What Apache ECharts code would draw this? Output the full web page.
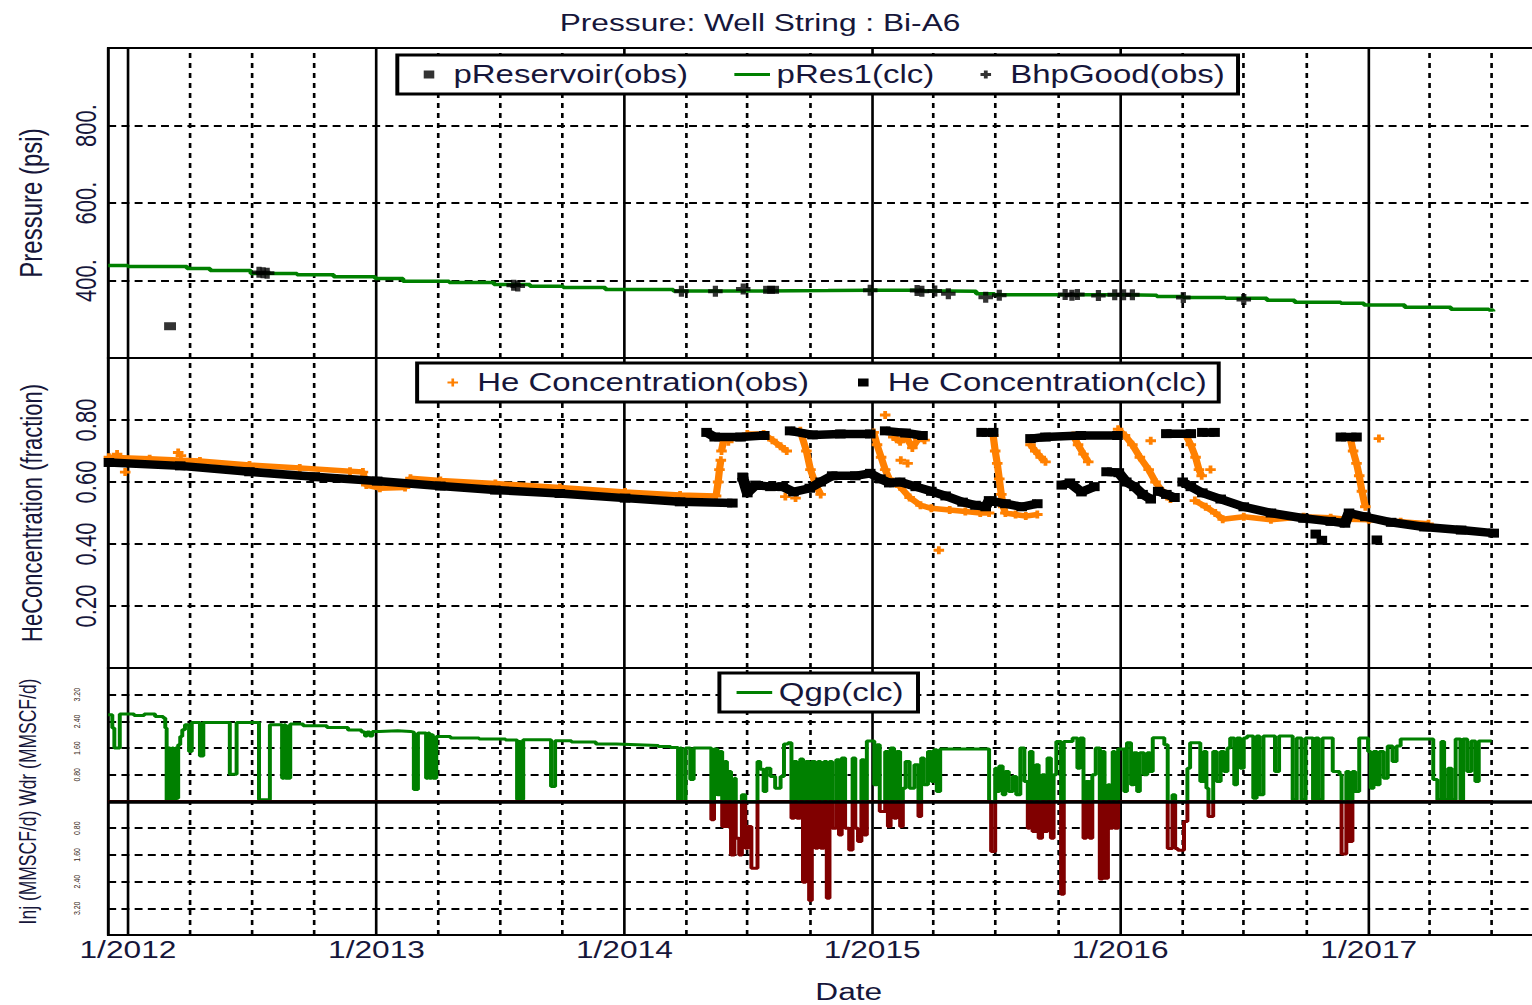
<!DOCTYPE html>
<html><head><meta charset="utf-8">
<script src="https://cdn.jsdelivr.net/npm/echarts@6/dist/echarts.min.js"></script>
<style>
html,body{margin:0;padding:0;background:#fff;overflow:hidden;}
#wrap{width:1532px;height:1005px;overflow:hidden;position:relative;background:#fff;}
#chart{width:1180px;height:1005px;transform:scaleX(1.32);transform-origin:0 0;}
</style></head><body>
<div id="wrap"><div id="chart"></div></div>
<script>
const titleText = 'Pressure: Well String : Bi-A6';
const xRange = ['2011-12-03', '2017-09-05'];
const quarterLines = ['2012-04-01','2012-07-01','2012-10-01','2013-04-01','2013-07-01','2013-10-01','2014-04-01','2014-07-01','2014-10-01','2015-04-01','2015-07-01','2015-10-01','2016-04-01','2016-07-01','2016-10-01','2017-04-01','2017-07-01'];

const pRes1 = [['2011-12-03',439],['2012-01-01',436],['2012-03-28',431],['2012-05-01',426],['2012-06-30',418],['2012-09-06',415],['2012-10-30',410],['2012-12-30',405],['2013-02-09',398],['2013-04-18',395],['2013-06-23',390],['2013-08-15',385],['2013-10-03',382],['2013-12-04',377],['2014-03-14',373],['2014-07-20',374],['2014-10-28',375],['2014-12-29',375],['2015-03-13',373],['2015-04-23',372],['2015-06-03',366],['2015-06-30',363],['2016-01-06',362],['2016-02-24',359],['2016-04-03',356],['2016-06-04',354],['2016-08-04',349],['2016-09-14',344],['2016-11-21',341],['2016-12-25',337],['2017-02-23',331],['2017-05-02',326],['2017-06-27',324],['2017-07-03',320]];

const pReservoirObs = [['2012-03-03',282],['2014-08-02',376],['2014-08-08',376]];

const bhpGood = [['2012-07-12',421],['2012-07-18',420],['2012-07-24',419],['2013-07-22',388],['2013-07-28',386],['2014-03-26',372],['2014-05-15',372],['2014-06-25',378],['2014-12-29',375],['2015-03-08',374],['2015-03-15',372],['2015-04-03',373],['2015-04-23',366],['2015-06-17',357],['2015-07-07',362],['2015-10-12',364],['2015-10-22',362],['2015-10-30',364],['2015-11-30',361],['2015-12-24',363],['2016-01-06',363],['2016-01-19',363],['2016-04-03',356],['2016-07-01',351]];

const heClcSegments = [
 [['2011-12-04',0.663],['2012-03-18',0.652],['2012-06-28',0.633],['2012-10-02',0.617],['2013-01-02',0.603],['2013-04-05',0.587],['2013-06-25',0.574],['2013-09-28',0.563],['2014-01-02',0.548],['2014-03-24',0.536],['2014-06-09',0.532]],
 [['2014-05-02',0.76],['2014-05-14',0.745],['2014-06-21',0.745],['2014-07-26',0.75]],
 [['2014-09-02',0.765],['2014-10-05',0.752],['2014-11-15',0.755],['2014-12-29',0.755]],
 [['2015-01-20',0.765],['2015-02-19',0.758],['2015-03-16',0.75]],
 [['2015-06-11',0.76],['2015-06-28',0.76]],
 [['2015-08-22',0.74],['2015-09-13',0.745],['2015-11-04',0.75],['2015-12-28',0.75]],
 [['2016-03-09',0.756],['2016-04-14',0.756]],
 [['2016-05-01',0.76],['2016-05-19',0.76]],
 [['2016-11-21',0.745],['2016-12-14',0.745]],
 [['2014-06-24',0.616],['2014-07-01',0.565],['2014-07-13',0.59],['2014-08-04',0.585],['2014-08-22',0.585],['2014-09-07',0.568],['2014-10-01',0.58],['2014-10-17',0.60],['2014-11-03',0.62],['2014-12-07',0.62],['2014-12-29',0.628],['2015-01-13',0.61],['2015-01-26',0.597],['2015-02-11',0.6],['2015-03-06',0.585],['2015-03-29',0.57],['2015-04-19',0.555],['2015-05-14',0.535],['2015-06-02',0.525],['2015-06-17',0.52],['2015-06-22',0.54],['2015-07-16',0.53],['2015-08-09',0.52],['2015-09-01',0.53]],
 [['2015-10-07',0.59],['2015-10-19',0.597],['2015-11-05',0.568],['2015-11-24',0.585]],
 [['2015-12-12',0.633],['2015-12-30',0.63],['2016-01-10',0.60],['2016-01-22',0.585],['2016-02-03',0.56],['2016-02-15',0.545]],
 [['2016-02-26',0.57],['2016-03-09',0.56],['2016-03-21',0.55]],
 [['2016-04-02',0.60],['2016-04-14',0.585],['2016-05-01',0.565],['2016-05-28',0.545],['2016-07-01',0.52],['2016-08-10',0.50],['2016-09-27',0.483],['2016-11-06',0.473],['2016-11-27',0.467],['2016-12-03',0.50],['2016-12-27',0.488],['2017-02-03',0.47],['2017-03-24',0.455],['2017-05-17',0.445],['2017-07-04',0.435]],
 [['2016-10-15',0.432]],
 [['2016-10-24',0.412]],
 [['2017-01-13',0.413]]
];

const heObsSegments = [
 [['2011-12-04',0.68],['2012-02-02',0.675],['2012-04-16',0.668],['2012-06-28',0.655],['2012-09-10',0.645],['2012-11-23',0.635],['2012-12-12',0.632],['2012-12-17',0.59],['2013-01-06',0.58],['2013-02-12',0.582],['2013-02-20',0.612],['2013-04-05',0.605],['2013-06-25',0.595],['2013-09-28',0.582],['2014-01-02',0.568],['2014-03-24',0.558],['2014-05-16',0.555],['2014-05-19',0.60],['2014-05-21',0.64],['2014-05-23',0.67]],
 [['2011-12-16',0.69]], [['2011-12-28',0.632]], [['2012-03-15',0.695]], [['2012-03-19',0.685]],
 [['2014-05-24',0.70],['2014-05-28',0.745],['2014-06-03',0.73]],
 [['2014-07-01',0.755],['2014-07-25',0.755],['2014-08-07',0.735],['2014-08-19',0.715],['2014-08-28',0.70]],
 [['2014-09-17',0.765],['2014-09-26',0.70],['2014-10-02',0.64],['2014-10-10',0.59],['2014-10-17',0.56]],
 [['2014-08-26',0.553]], [['2014-09-10',0.548]],
 [['2015-01-03',0.76],['2015-01-08',0.72],['2015-01-14',0.68],['2015-01-20',0.64],['2015-01-26',0.61]],
 [['2015-01-20',0.816]],
 [['2015-02-01',0.745],['2015-02-11',0.73],['2015-02-19',0.75],['2015-03-01',0.71],['2015-03-10',0.74],['2015-03-19',0.735]],
 [['2015-02-12',0.67]], [['2015-02-22',0.66]],
 [['2015-02-11',0.585],['2015-02-25',0.55],['2015-03-13',0.525],['2015-03-29',0.515],['2015-04-25',0.51],['2015-05-18',0.505],['2015-06-09',0.50],['2015-06-22',0.50]],
 [['2015-04-09',0.38]],
 [['2015-06-28',0.75],['2015-07-01',0.70],['2015-07-04',0.66],['2015-07-07',0.61],['2015-07-10',0.56],['2015-07-13',0.52],['2015-07-16',0.50],['2015-07-31',0.495],['2015-08-15',0.49],['2015-09-01',0.495]],
 [['2015-08-22',0.72],['2015-08-29',0.70],['2015-09-06',0.68],['2015-09-13',0.665]],
 [['2015-10-24',0.75],['2015-10-31',0.72],['2015-11-08',0.69],['2015-11-15',0.665]],
 [['2015-12-29',0.77],['2016-01-08',0.75],['2016-01-19',0.72],['2016-01-30',0.68],['2016-02-12',0.64],['2016-02-22',0.60],['2016-03-03',0.57],['2016-03-15',0.545]],
 [['2016-02-15',0.733]],
 [['2016-04-07',0.75],['2016-04-14',0.72],['2016-04-21',0.68],['2016-04-26',0.64],['2016-04-30',0.62]],
 [['2016-05-13',0.64]],
 [['2016-04-20',0.54],['2016-05-06',0.52],['2016-05-20',0.50],['2016-05-31',0.48],['2016-07-01',0.488],['2016-08-10',0.478],['2016-09-27',0.488],['2016-11-06',0.485],['2016-11-29',0.48],['2017-01-01',0.478],['2017-02-17',0.472],['2017-03-30',0.465]],
 [['2016-12-05',0.74],['2016-12-09',0.70],['2016-12-14',0.66],['2016-12-18',0.62],['2016-12-22',0.57],['2016-12-27',0.52]],
 [['2017-01-16',0.74]]
];

const qgp = [['2011-12-03',2.60],['2011-12-09',2.20],['2011-12-12',1.60],['2011-12-20',2.62],['2012-01-10',2.58],['2012-01-25',2.62],['2012-02-10',2.55],['2012-02-22',2.50],['2012-02-25',2.20],['2012-02-27',0.00],['2012-03-01',1.60],['2012-03-03',0.00],['2012-03-06',1.60],['2012-03-08',0.00],['2012-03-11',1.60],['2012-03-13',0.10],['2012-03-15',1.70],['2012-03-18',1.95],['2012-03-21',2.15],['2012-03-25',2.30],['2012-03-31',1.50],['2012-04-04',2.37],['2012-04-16',1.36],['2012-04-21',2.37],['2012-05-30',0.82],['2012-06-09',2.37],['2012-07-12',0.05],['2012-07-28',2.30],['2012-08-15',0.70],['2012-08-18',2.30],['2012-08-20',0.70],['2012-08-23',2.30],['2012-08-24',0.70],['2012-08-27',2.32],['2012-09-15',2.27],['2012-10-20',2.22],['2012-11-20',2.14],['2012-12-10',2.08],['2012-12-15',1.96],['2012-12-18',2.08],['2012-12-22',1.96],['2012-12-26',2.10],['2013-01-05',2.12],['2013-02-01',2.10],['2013-02-20',2.08],['2013-02-25',0.36],['2013-02-27',2.05],['2013-02-28',0.36],['2013-03-03',2.05],['2013-03-15',0.70],['2013-03-18',2.05],['2013-03-20',0.70],['2013-03-23',2.00],['2013-03-25',0.70],['2013-03-30',1.95],['2013-04-20',1.90],['2013-06-01',1.87],['2013-07-10',1.84],['2013-07-27',0.06],['2013-07-30',1.80],['2013-08-01',0.06],['2013-08-05',1.85],['2013-08-20',1.85],['2013-09-15',0.45],['2013-09-21',1.82],['2013-10-15',1.78],['2013-11-20',1.72],['2013-12-20',1.70],['2014-01-20',1.68],['2014-02-20',1.65],['2014-03-10',1.62],['2014-03-21',0.00],['2014-03-24',1.60],['2014-03-26',0.00],['2014-04-01',1.60],['2014-04-08',0.66],['2014-04-13',1.60],['2014-05-09',-0.55],['2014-05-13',1.57],['2014-05-18',0.20],['2014-05-22',1.50],['2014-05-25',-0.75],['2014-05-29',1.20],['2014-06-01',-0.75],['2014-06-04',0.90],['2014-06-07',-1.60],['2014-06-12',0.70],['2014-06-14',-1.10],['2014-06-19',-1.60],['2014-06-23',0.20],['2014-06-28',-1.40],['2014-07-02',-0.75],['2014-07-07',-2.00],['2014-07-11',-2.00],['2014-07-16',1.20],['2014-07-20',0.97],['2014-07-25',0.30],['2014-07-29',1.00],['2014-08-04',0.75],['2014-08-11',0.40],['2014-08-19',0.75],['2014-08-24',1.72],['2014-08-30',1.76],['2014-09-04',-0.50],['2014-09-08',1.20],['2014-09-12',-0.50],['2014-09-17',1.27],['2014-09-21',-2.42],['2014-09-25',1.20],['2014-09-30',-2.97],['2014-10-04',1.20],['2014-10-09',-1.40],['2014-10-13',1.20],['2014-10-17',-1.40],['2014-10-22',1.20],['2014-10-26',-2.90],['2014-10-30',1.20],['2014-11-03',-0.80],['2014-11-09',1.25],['2014-11-13',-1.00],['2014-11-17',1.30],['2014-11-22',-0.80],['2014-11-28',-1.45],['2014-12-03',1.30],['2014-12-07',-0.80],['2014-12-11',-1.20],['2014-12-16',1.25],['2014-12-20',-1.00],['2014-12-24',1.81],['2015-01-04',0.50],['2015-01-08',1.70],['2015-01-12',-0.30],['2015-01-20',1.50],['2015-01-24',-0.75],['2015-01-28',1.60],['2015-02-02',-0.50],['2015-02-06',1.50],['2015-02-11',-0.75],['2015-02-15',0.40],['2015-02-19',1.20],['2015-02-25',0.40],['2015-03-04',1.10],['2015-03-10',-0.45],['2015-03-14',1.30],['2015-03-18',0.50],['2015-03-24',1.50],['2015-03-29',0.60],['2015-04-02',1.55],['2015-04-06',0.30],['2015-04-11',1.57],['2015-06-22',0.00],['2015-06-25',-1.50],['2015-07-01',1.00],['2015-07-03',0.30],['2015-07-07',1.06],['2015-07-12',0.20],['2015-07-16',0.90],['2015-07-21',0.30],['2015-07-27',0.75],['2015-08-01',0.20],['2015-08-07',1.60],['2015-08-13',0.60],['2015-08-18',-0.80],['2015-08-21',1.50],['2015-08-25',-0.90],['2015-08-30',1.10],['2015-09-03',-1.10],['2015-09-08',0.80],['2015-09-12',-0.90],['2015-09-16',1.30],['2015-09-21',-1.10],['2015-09-25',0.80],['2015-09-29',1.80],['2015-10-06',-2.78],['2015-10-10',1.80],['2015-10-23',1.90],['2015-10-30',1.00],['2015-11-03',1.90],['2015-11-08',-1.10],['2015-11-12',0.60],['2015-11-17',-1.10],['2015-11-21',0.80],['2015-11-26',1.60],['2015-12-02',-2.32],['2015-12-06',1.50],['2015-12-09',-2.30],['2015-12-14',0.50],['2015-12-17',-0.80],['2015-12-21',1.50],['2015-12-24',-0.80],['2015-12-29',1.57],['2016-01-07',0.30],['2016-01-11',1.76],['2016-01-17',0.50],['2016-01-21',1.46],['2016-01-26',0.30],['2016-01-30',1.46],['2016-02-05',0.80],['2016-02-10',1.46],['2016-02-14',0.90],['2016-02-18',1.91],['2016-03-06',1.70],['2016-03-11',-1.41],['2016-03-18',0.20],['2016-03-22',-1.41],['2016-03-26',-1.46],['2016-04-04',-0.60],['2016-04-09',1.00],['2016-04-13',1.76],['2016-04-28',0.60],['2016-05-03',1.50],['2016-05-07',0.40],['2016-05-10',-0.45],['2016-05-17',1.50],['2016-05-22',0.60],['2016-05-28',1.50],['2016-06-02',0.90],['2016-06-07',1.60],['2016-06-11',1.90],['2016-06-17',0.50],['2016-06-21',1.90],['2016-06-26',1.00],['2016-07-01',1.90],['2016-07-06',1.96],['2016-07-15',0.10],['2016-07-20',1.96],['2016-07-24',0.20],['2016-07-30',1.96],['2016-08-16',0.90],['2016-08-22',1.96],['2016-09-11',0.05],['2016-09-17',1.90],['2016-09-24',0.05],['2016-09-30',1.90],['2016-10-11',0.05],['2016-10-15',1.90],['2016-10-19',0.05],['2016-10-25',1.90],['2016-11-09',0.90],['2016-11-19',0.80],['2016-11-22',-1.57],['2016-11-29',0.90],['2016-12-03',-1.20],['2016-12-08',0.90],['2016-12-12',0.30],['2016-12-18',1.90],['2016-12-31',1.50],['2017-01-04',0.40],['2017-01-08',1.50],['2017-01-13',0.50],['2017-01-17',1.50],['2017-01-23',0.70],['2017-01-29',1.66],['2017-02-05',1.20],['2017-02-11',1.66],['2017-02-17',1.87],['2017-04-06',0.66],['2017-04-12',0.05],['2017-04-18',1.80],['2017-04-22',0.05],['2017-04-28',1.00],['2017-05-03',0.05],['2017-05-09',1.87],['2017-05-16',0.05],['2017-05-20',1.87],['2017-05-26',0.90],['2017-06-01',1.81],['2017-06-07',0.60],['2017-06-12',1.81],['2017-07-01',1.81]];

const T = s => { const p = s.split('-').map(Number); return Date.UTC(p[0], p[1] - 1, p[2]); };
const pts = arr => arr.map(([d, v]) => [T(d), v]);
const joinSegs = segs => {
  const out = [];
  segs.forEach((seg, i) => {
    if (i > 0) out.push([T(seg[0][0]), null]);
    seg.forEach(([d, v]) => out.push([T(d), v]));
  });
  return out;
};

const TEXT = '#16163a';
const FONT = "'Liberation Sans', Arial, Helvetica, sans-serif";
const plusPath = 'path://M3,0L5,0L5,3L8,3L8,5L5,5L5,8L3,8L3,5L0,5L0,3L3,3Z';
const boldPlusPath = 'path://M3.2,0L6.8,0L6.8,3.2L10,3.2L10,6.8L6.8,6.8L6.8,10L3.2,10L3.2,6.8L0,6.8L0,3.2L3.2,3.2Z';
const squarePath = 'path://M0,0L8,0L8,8L0,8Z';
const linePath = 'path://M0,0L27,0L27,3L0,3Z';
const GREEN = '#008000', RED = '#800000', ORANGE = '#ff8000';

const qgpT = pts(qgp);
const qgpWdr = qgpT.map(([t, v]) => [t, Math.max(v, 0)]);
const qgpInj = qgpT.map(([t, v]) => [t, Math.min(v, 0)]);

const quarterMark = {
  silent: true, z: 1, symbol: ['none', 'none'], label: { show: false },
  lineStyle: { color: '#000', width: 2, type: [5, 5] },
  emphasis: { disabled: true },
  data: quarterLines.map(d => ({ xAxis: T(d) }))
};

const legendBase = {
  orient: 'horizontal', itemWidth: 27, itemHeight: 8, itemGap: 35,
  padding: [7, 10, 7, 20], borderColor: '#000', borderWidth: 3,
  backgroundColor: '#fff', selectedMode: false, symbolKeepAspect: true,
  textStyle: { fontSize: 25, color: TEXT, fontFamily: FONT }
};

const grids = [
  { left: 82, right: 16, top: 48, height: 310 },
  { left: 82, right: 16, top: 358, height: 310 },
  { left: 82, right: 16, top: 668, height: 267 }
].map(g => Object.assign(g, { show: true, borderColor: '#000', borderWidth: 2, backgroundColor: 'transparent' }));

const xAxes = [0, 1, 2].map(i => ({
  type: 'time', gridIndex: i, min: T(xRange[0]), max: T(xRange[1]),
  minInterval: 365 * 86400000, maxInterval: 366 * 86400000, splitNumber: 6,
  axisLine: { show: false }, axisTick: { show: false },
  splitLine: { show: true, lineStyle: { color: '#000', width: 2, type: 'solid' } },
  axisLabel: i === 2 ? {
    show: true, fontSize: 24, color: TEXT, fontFamily: FONT, margin: 3,
    hideOverlap: false,
    formatter: v => { const d = new Date(v); return (d.getUTCMonth() === 0 && d.getUTCDate() === 1) ? (d.getUTCMonth() + 1) + '/' + d.getUTCFullYear() : ''; }
  } : { show: false },
  name: i === 2 ? 'Date' : '', nameLocation: 'middle', nameGap: 45,
  nameTextStyle: { fontSize: 24, color: TEXT, fontFamily: FONT, padding: [0, 0, 0, 40] }
}));

const dashY = { show: true, lineStyle: { color: '#000', width: 2, type: [6, 4] } };
const yAxes = [
  { gridIndex: 0, min: 200, max: 1000, interval: 200,
    axisLabel: { rotate: 90, fontSize: 22, margin: 6, color: TEXT, fontFamily: FONT,
      formatter: v => (v === 200 || v === 1000) ? '' : v + '.' },
    name: 'Pressure (psi)', nameGap: 46, nameTextStyle: { fontSize: 24, color: TEXT, fontFamily: FONT } },
  { gridIndex: 1, min: 0, max: 1, interval: 0.2,
    axisLabel: { rotate: 90, fontSize: 22, margin: 6, color: TEXT, fontFamily: FONT,
      formatter: v => (Math.abs(v) < 1e-6 || Math.abs(v - 1) < 1e-6) ? '' : v.toFixed(2) },
    name: 'HeConcentration (fraction)', nameGap: 47, nameTextStyle: { fontSize: 22, color: TEXT, fontFamily: FONT } },
  { gridIndex: 2, min: -4, max: 4, interval: 0.8,
    axisLabel: { rotate: 90, fontSize: 7, margin: 20, color: '#3a2a20', fontFamily: FONT,
      formatter: v => { const a = Math.abs(v); return (a < 1e-6 || Math.abs(a - 4) < 1e-6) ? '' : a.toFixed(2); } },
    name: 'Inj (MMSCF/d) Wdr (MMSCF/d)', nameGap: 52, nameTextStyle: { fontSize: 17.5, color: TEXT, fontFamily: FONT } }
].map(y => Object.assign({ type: 'value', nameLocation: 'middle', axisLine: { show: false }, axisTick: { show: false }, splitLine: dashY }, y));

const option = {
  animation: false, useUTC: true, backgroundColor: '#fff',
  title: { text: titleText, left: 419, top: 6, textStyle: { fontSize: 24, fontWeight: 'normal', color: TEXT, fontFamily: FONT } },
  legend: [
    Object.assign({}, legendBase, { left: 301, top: 55,
      data: [{ name: 'pReservoir(obs)', icon: squarePath }, { name: 'pRes1(clc)', icon: linePath }, { name: 'BhpGood(obs)', icon: boldPlusPath }] }),
    Object.assign({}, legendBase, { left: 316, top: 363, itemGap: 37, padding: [7, 9, 7, 23],
      data: [{ name: 'He Concentration(obs)', icon: plusPath }, { name: 'He Concentration(clc)', icon: squarePath }] }),
    Object.assign({}, legendBase, { left: 545, top: 673, padding: [7, 11, 7, 13],
      data: [{ name: 'Qgp(clc)', icon: linePath }] })
  ],
  grid: grids, xAxis: xAxes, yAxis: yAxes,
  series: [
    { name: 'pRes1(clc)', type: 'line', xAxisIndex: 0, yAxisIndex: 0, step: 'end', data: pts(pRes1),
      symbol: 'none', color: GREEN, itemStyle: { color: GREEN }, lineStyle: { color: GREEN, width: 3.5 }, z: 3,
      markLine: quarterMark },
    { name: 'pReservoir(obs)', type: 'scatter', xAxisIndex: 0, yAxisIndex: 0, data: pts(pReservoirObs),
      symbol: 'rect', symbolSize: [9, 8], itemStyle: { color: '#000' }, z: 4 },
    { name: 'BhpGood(obs)', type: 'scatter', xAxisIndex: 0, yAxisIndex: 0, data: pts(bhpGood),
      symbol: boldPlusPath, symbolSize: 11, itemStyle: { color: '#000' }, z: 4 },
    { name: 'He Concentration(obs)', type: 'line', xAxisIndex: 1, yAxisIndex: 1, data: joinSegs(heObsSegments),
      connectNulls: false, symbol: boldPlusPath, symbolSize: 8, showSymbol: true, showAllSymbol: true,
      color: ORANGE, itemStyle: { color: ORANGE }, lineStyle: { color: ORANGE, width: 5.5 }, z: 3 },
    { name: 'He Concentration(clc)', type: 'line', xAxisIndex: 1, yAxisIndex: 1, data: joinSegs(heClcSegments),
      connectNulls: false, symbol: 'rect', symbolSize: [8, 9], showSymbol: true, showAllSymbol: true,
      color: '#000', itemStyle: { color: '#000' }, lineStyle: { color: '#000', width: 8.5 }, z: 4,
      markLine: quarterMark },
    { name: 'Qgp(clc)', type: 'line', xAxisIndex: 2, yAxisIndex: 2, step: 'end', data: qgpWdr,
      symbol: 'none', color: GREEN, itemStyle: { color: GREEN }, lineStyle: { color: GREEN, width: 3 }, z: 3,
      markLine: quarterMark },
    { name: 'Qgp(clc) inj', type: 'line', xAxisIndex: 2, yAxisIndex: 2, step: 'end', data: qgpInj,
      symbol: 'none', color: RED, itemStyle: { color: RED }, lineStyle: { color: RED, width: 3 }, z: 3,
      markLine: { silent: true, z: 10, symbol: ['none', 'none'], label: { show: false },
        lineStyle: { color: '#000', width: 3.5, type: 'solid' }, emphasis: { disabled: true },
        data: [{ yAxis: 0 }] } }
  ]
};

const chart = echarts.init(document.getElementById('chart'), null, { renderer: 'svg' });
chart.setOption(option);
</script>
</body></html>
